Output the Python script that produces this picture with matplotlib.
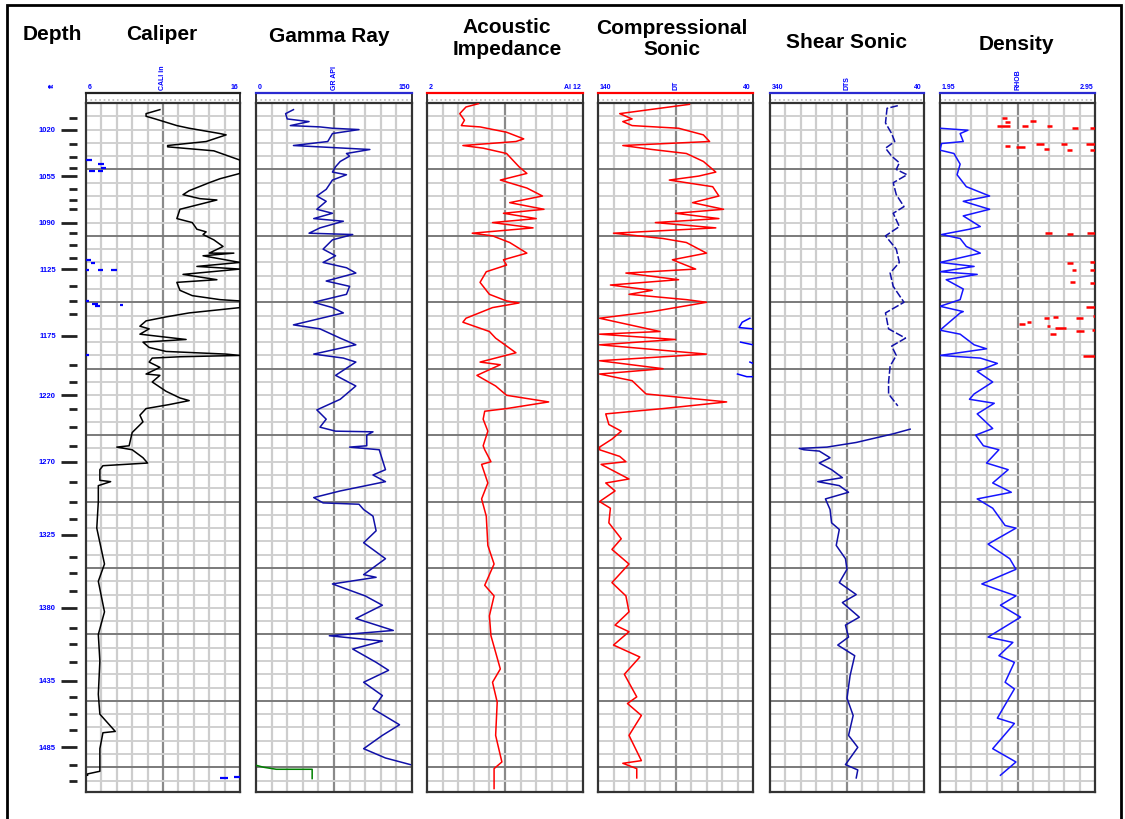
import matplotlib.pyplot as plt
import matplotlib.patches as patches
import numpy as np

W, H = 1125, 820
plt.rcParams['font.family'] = ['Liberation Sans', 'DejaVu Sans']

# depth axis (ft), grid: minor 10 ft, major 50 ft
depth_top, depth_bottom = 1000, 1518.6
depth_labels = [1020, 1055, 1090, 1125, 1175, 1220, 1270, 1325, 1380, 1435, 1485]
depth_minor = [1011, 1031, 1041, 1049, 1065, 1073, 1080, 1098, 1107, 1117, 1138, 1149,
               1159, 1197, 1210, 1230, 1244, 1258, 1285, 1300, 1313, 1342, 1354, 1367,
               1395, 1407, 1421, 1447, 1460, 1472, 1498, 1510]

# curves: (depth, value in track divisions 0-10)
caliper = [(1005, 4.8), (1008, 3.9), (1010, 3.9), (1012, 4.5), (1017, 5.9), (1019, 6.7),
           (1023, 8.7), (1024, 9.1), (1029, 7.8), (1032, 5.3), (1033, 5.3), (1036, 8.3),
           (1043, 10.0), (1053, 10.0), (1057, 8.7), (1060, 8.0), (1066, 6.7), (1069, 6.3),
           (1072, 7.4), (1073, 8.5), (1080, 6.1), (1087, 5.9), (1090, 6.9), (1095, 7.2),
           (1097, 7.8), (1099, 7.6), (1103, 8.3), (1108, 8.9), (1113, 8.0), (1113, 9.6),
           (1115, 7.6), (1120, 10.0), (1123, 7.2), (1125, 10.0), (1129, 6.3), (1133, 8.5),
           (1135, 5.9), (1141, 6.1), (1145, 6.9), (1148, 8.7), (1149, 10.0), (1154, 10.0),
           (1158, 6.7), (1161, 5.2), (1164, 3.9), (1168, 3.5), (1170, 4.1), (1174, 3.5),
           (1178, 6.5), (1180, 3.7), (1184, 4.1), (1187, 5.2), (1189, 9.1), (1190, 10.0),
           (1191, 6.1), (1192, 4.3), (1195, 4.1), (1199, 4.8), (1204, 3.9), (1205, 4.8),
           (1210, 4.3), (1217, 5.2), (1222, 6.1), (1224, 6.7), (1227, 5.4), (1230, 3.9),
           (1235, 3.5), (1240, 3.7), (1248, 3.0), (1258, 2.8), (1259, 2.0), (1261, 3.0),
           (1267, 3.7), (1271, 4.0), (1273, 1.1), (1276, 0.9), (1284, 0.9), (1285, 1.6),
           (1288, 0.8), (1300, 0.8), (1320, 0.7), (1347, 1.2), (1360, 0.8), (1383, 1.2),
           (1400, 0.8), (1420, 0.9), (1445, 0.8), (1460, 0.9), (1473, 1.9), (1474, 1.1),
           (1480, 1.0), (1486, 0.9), (1503, 0.9), (1505, 0.1), (1506, 0.1)]

gamma = [(1005, 2.4), (1008, 1.9), (1012, 2.0), (1014, 3.4), (1017, 2.2), (1018, 4.1),
         (1019, 4.9), (1020, 6.6), (1023, 4.9), (1029, 4.6), (1032, 2.4), (1035, 7.3),
         (1038, 5.8), (1040, 6.0), (1044, 5.4), (1048, 5.1), (1052, 4.9), (1054, 5.8),
         (1058, 4.9), (1065, 4.5), (1070, 3.9), (1074, 4.5), (1080, 3.9), (1083, 4.9),
         (1087, 3.7), (1089, 5.6), (1094, 4.1), (1098, 3.4), (1099, 6.2), (1103, 4.9),
         (1110, 4.3), (1115, 5.1), (1120, 4.3), (1124, 5.8), (1128, 6.4), (1134, 4.5),
         (1138, 6.0), (1144, 5.8), (1150, 3.7), (1154, 4.9), (1158, 5.6), (1167, 2.4),
         (1170, 4.1), (1177, 5.4), (1182, 6.4), (1189, 3.7), (1192, 5.6), (1195, 6.4),
         (1205, 5.1), (1213, 6.4), (1223, 5.4), (1231, 3.9), (1238, 4.5), (1244, 4.1),
         (1247, 5.1), (1247.5, 7.5), (1250, 7.1), (1258, 7.1), (1259, 6.0), (1261, 7.9),
         (1276, 8.3), (1280, 7.5), (1285, 8.3), (1292, 5.4), (1297, 3.7), (1301, 4.3),
         (1302, 6.6), (1306, 6.9), (1311, 7.5), (1322, 7.7), (1331, 6.9), (1343, 8.3),
         (1355, 6.9), (1357, 7.7), (1362, 4.9), (1371, 7.0), (1378, 8.1), (1388, 6.4),
         (1397, 8.8), (1401, 4.7), (1405, 8.1), (1411, 6.2), (1421, 7.7), (1427, 8.5),
         (1436, 6.9), (1446, 8.1), (1456, 7.5), (1468, 9.2), (1476, 8.1), (1486, 6.9),
         (1493, 8.3), (1498, 9.9)]

gamma_green = [(1498.5, 0.0), (1500, 0.5), (1501.5, 1.3), (1501.5, 3.6), (1508.5, 3.6)]

impedance = [(1000.5, 3.3), (1003, 2.5), (1008, 2.1), (1013, 2.4), (1017, 2.2), (1018, 3.4),
             (1022, 5.1), (1027, 6.2), (1029, 5.7), (1032, 2.3), (1034, 3.6), (1038, 5.1),
             (1043, 5.5), (1048, 5.9), (1053, 6.4), (1058, 4.7), (1064, 6.4), (1070, 7.4),
             (1075, 5.3), (1080, 7.5), (1083, 4.9), (1087, 7.0), (1090, 4.2), (1094, 6.8),
             (1098, 2.9), (1100, 4.2), (1105, 5.3), (1113, 6.4), (1118, 4.9), (1122, 5.1),
             (1127, 3.8), (1135, 3.4), (1144, 4.0), (1149, 5.1), (1150.5, 5.9), (1154, 4.2),
             (1162, 2.5), (1165, 2.3), (1172, 4.0), (1177, 4.4), (1188, 5.7), (1195, 3.4),
             (1197, 4.7), (1205, 3.2), (1213, 4.4), (1220, 5.1), (1225, 7.8), (1230, 5.1),
             (1232, 3.7), (1238, 3.6), (1247, 3.9), (1258, 3.6), (1261, 3.7), (1270, 4.1),
             (1272, 3.5), (1286, 3.9), (1298, 3.5), (1311, 3.8), (1333, 3.9), (1347, 4.3),
             (1363, 3.7), (1371, 4.3), (1386, 4.0), (1401, 4.1), (1426, 4.7), (1436, 4.2),
             (1451, 4.5), (1476, 4.4), (1496, 4.8), (1501, 4.3), (1516, 4.3)]

comp_sonic = [(1001, 5.9), (1008, 1.4), (1012, 2.2), (1014, 1.6), (1017, 2.2), (1019, 5.2),
              (1024, 6.8), (1029, 7.2), (1032, 1.6), (1035, 3.5), (1038, 5.7), (1044, 6.8),
              (1052, 7.6), (1055, 6.5), (1058, 4.6), (1063, 7.4), (1070, 7.8), (1075, 6.1),
              (1080, 8.1), (1083, 5.0), (1087, 7.8), (1090, 3.7), (1094, 7.6), (1098, 1.0),
              (1102, 4.2), (1105, 5.7), (1113, 7.0), (1118, 4.8), (1125, 6.3), (1128, 1.8),
              (1133, 5.2), (1137, 0.8), (1141, 3.5), (1144, 2.0), (1148, 5.7), (1150, 7.0),
              (1157, 3.5), (1162, 0.1), (1172, 4.0), (1174, 0.1), (1178, 5.0), (1182, 0.1),
              (1189, 7.0), (1194, 0.1), (1200, 4.2), (1204, 0.1), (1209, 2.2), (1219, 3.1),
              (1222, 5.7), (1225, 8.3), (1230, 4.2), (1234, 0.5), (1242, 0.7), (1247, 1.5),
              (1253, 0.9), (1259, 0.1), (1261, 0.1), (1266, 1.4), (1270, 1.8), (1272, 0.2),
              (1283, 2.0), (1286, 0.5), (1292, 1.1), (1300, 0.1), (1305, 0.8), (1316, 0.7),
              (1328, 1.5), (1336, 0.9), (1347, 2.0), (1361, 0.9), (1371, 1.8), (1383, 2.0),
              (1393, 1.1), (1398, 2.0), (1408, 1.0), (1417, 2.7), (1430, 1.7), (1447, 2.5),
              (1452, 1.9), (1461, 2.8), (1476, 2.0), (1495, 2.8), (1497, 1.6), (1501, 2.5),
              (1508, 2.5)]

comp_sonic_blue = [(1162, 9.8), (1165, 9.3), (1169, 9.1), (1170, 10.0), (np.nan, np.nan),
                   (1180, 9.2), (1182, 10.0), (np.nan, np.nan), (1195, 9.8), (1196, 10.0),
                   (np.nan, np.nan), (1204, 9.0), (1206, 9.6), (1206, 10.0)]

# upper shear section is broken in the original
shear_upper = [(1002, 8.3), (1004, 7.6), (1015, 7.5), (1023, 7.9), (1029, 8.1), (1034, 7.5),
               (1040, 7.9), (1045, 8.4), (1050, 8.2), (1054, 8.9), (1060, 8.0), (1069, 8.2),
               (1078, 8.7), (1083, 8.0), (1093, 8.4), (1100, 7.5), (1110, 8.2), (1120, 8.4),
               (1128, 7.8), (1138, 8.0), (1150, 8.7), (1158, 7.5), (1170, 7.7), (1177, 8.8),
               (1183, 7.9), (1190, 8.2), (1198, 7.8), (1210, 7.7), (1219, 7.7), (1228, 8.3)]

shear_lower = [(1245.5, 9.1), (1249, 8.0), (1255.5, 5.6), (1259, 3.7),
               (1260, 1.9), (1261, 2.2), (1262, 3.2), (1267, 3.9), (1271, 3.2), (1276, 4.0),
               (1282, 4.7), (1285, 3.1), (1288, 4.5), (1293, 5.1), (1298, 3.6), (1306, 3.9),
               (1316, 4.0), (1321, 4.5), (1333, 4.3), (1343, 4.9), (1351, 5.0), (1361, 4.5),
               (1370, 5.6), (1376, 4.7), (1387, 5.8), (1393, 4.9), (1402, 5.1), (1408, 4.4),
               (1416, 5.5), (1431, 5.2), (1448, 5.0), (1461, 5.4), (1476, 5.1), (1485, 5.7),
               (1498, 4.9), (1502, 5.7), (1508, 5.6)]

density = [(1019, 0.0), (1020.5, 1.8), (1023, 1.3), (1029, 1.5), (1030.5, 0.1), (1035.5, 0.0),
           (1038, 0.9), (1046, 1.3), (1054, 1.1), (1063, 1.7), (1070, 3.2), (1074, 1.5),
           (1080, 3.2), (1085, 1.5), (1093, 2.6), (1095, 1.9), (1099, 0.1), (1102, 1.3),
           (1108, 1.7), (1113, 2.6), (1120, 0.0), (1123, 2.2), (1127, 0.0), (1129, 2.4),
           (1133, 0.4), (1140, 1.5), (1148, 1.3), (1153, 0.0), (1157, 1.5), (1158, 1.3),
           (1171, 0.0), (1174, 1.3), (1182, 2.2), (1185, 3.0), (1190, 0.0), (1192, 2.6),
           (1196, 3.7), (1202, 2.4), (1210, 3.4), (1219, 2.2), (1223, 1.9), (1226, 3.5),
           (1234, 2.4), (1245, 3.4), (1250, 2.3), (1258, 2.8), (1261, 3.8), (1271, 3.0),
           (1276, 4.4), (1286, 3.4), (1293, 4.6), (1298, 2.4), (1305, 3.4), (1318, 4.2),
           (1320, 4.9), (1332, 3.1), (1343, 4.5), (1351, 4.9), (1362, 2.7), (1371, 4.9),
           (1378, 3.9), (1387, 5.2), (1402, 3.1), (1406, 4.7), (1416, 3.8), (1421, 4.8),
           (1436, 4.2), (1441, 4.8), (1463, 3.7), (1467, 4.8), (1486, 3.4), (1496, 4.9),
           (1506, 3.9)]

# short dashed fragments: (depth, from, to)
density_red = [(1011, 4.0, 4.3), (1014, 4.2, 4.5), (1017, 3.7, 4.5), (1017, 5.3, 5.7),
               (1013.5, 5.8, 6.2), (1017, 6.9, 7.2), (1019, 8.5, 8.9), (1019, 9.7, 10.0),
               (1032, 4.2, 4.5), (1033, 4.9, 5.5), (1030.5, 6.2, 6.7), (1034.5, 6.7, 7.0),
               (1030.5, 7.8, 8.2), (1035, 8.2, 8.5), (1030.5, 9.4, 10.0), (1035.5, 9.7, 10.0),
               (1097.5, 6.8, 7.2), (1098.5, 8.2, 8.6), (1098, 9.5, 10.0), (1120.5, 8.2, 8.6),
               (1119.5, 9.7, 10.0), (1126, 8.5, 8.8), (1126, 9.7, 10.0), (1135, 8.4, 8.7),
               (1135.5, 9.7, 10.0), (1153.5, 9.4, 10.0), (1166.5, 5.1, 5.5), (1165, 5.6, 5.9),
               (1162, 6.7, 7.0), (1168, 6.9, 7.1), (1161, 7.3, 7.6), (1169, 7.4, 8.1),
               (1174, 7.1, 7.5), (1162, 8.8, 9.2), (1171.5, 8.8, 9.3), (1171, 9.8, 10.0),
               (1160.5, 9.9, 10.0), (1190.5, 9.2, 10.0)]

caliper_blue = [(1043, 0.0, 0.4), (1046, 0.8, 1.2), (1049, 1.0, 1.3), (1051, 0.2, 0.6),
                (1051, 0.8, 1.1), (1118, 0.0, 0.3), (1120.5, 0.3, 0.6), (1126, 0.0, 0.2),
                (1126, 0.8, 1.1), (1126, 1.6, 2.0), (1149, 0.0, 0.2), (1151, 0.4, 0.8),
                (1153, 0.6, 0.9), (1152, 2.2, 2.4), (1189.5, 0.0, 0.2), (1508, 8.7, 9.2),
                (1507, 9.6, 10.0)]

titles = ["Caliper", "Gamma Ray", "Acoustic\nImpedance", "Compressional\nSonic",
          "Shear Sonic", "Density"]
scale_labels = [("6", "CALI in", "16"), ("0", "GR API", "150"), ("2", "", "AI 12"),
                ("140", "DT", "40"), ("340", "DTS", "40"), ("1.95", "RHOB", "2.95")]

# layout in pixels
track_x = [(86, 240), (256, 412), (427, 583), (598, 753), (770, 924), (940, 1095)]
title_pos = [(162, 35), (329, 36), (507, 38.5), (672, 39), (846, 43), (1016, 45)]
header_colors = ['#222222', '#2a2ad0', 'red', 'red', '#2a2ad0', '#2a2ad0']
plot_top, plot_bottom, head_top = 104, 793, 94


def px_axes(fig, x0, y0, x1, y1):
    return fig.add_axes([x0 / W, 1 - y1 / H, (x1 - x0) / W, (y1 - y0) / H])


def draw_grid(ax):
    for v in range(1, 10):
        ax.axvline(v, color='#8a8a8a' if v == 5 else '#cdcdcd', lw=1.6, zorder=0)
    for d in range(1010, 1519, 10):
        major = d % 50 == 0
        ax.axhline(d, color='#7a7a7a' if major else '#d0d0d0', lw=1.4, zorder=0)


def curve(ax, pts, color, lw=1.1, ls='-'):
    a = np.array(pts, dtype=float)
    ax.plot(a[:, 1], a[:, 0], color=color, lw=lw, ls=ls, zorder=3)


def frags(ax, segs, color, lw=1.6):
    a = np.array(segs, dtype=float)
    ax.hlines(a[:, 0], a[:, 1], a[:, 2], color=color, lw=lw, zorder=3)


fig = plt.figure(figsize=(W / 100, H / 100), dpi=100)

# outer frame
fig.patches.append(patches.Rectangle((7 / W, -0.01), (1121 - 7) / W, 1.01 - 6 / H,
                                     transform=fig.transFigure, fill=False,
                                     edgecolor='black', lw=2))

fig.text(52 / W, 1 - 34 / H, "Depth", ha='center', va='center', fontsize=15,
         fontweight='bold')
fig.text(52 / W, 1 - 88 / H, "ft", ha='center', va='bottom', fontsize=5.5,
         fontweight='bold', color='blue', rotation=90)

# depth column
axd = px_axes(fig, 20, plot_top, 86, plot_bottom)
axd.set_xlim(20, 86)
axd.set_ylim(depth_bottom, depth_top)
axd.axis('off')
axd.hlines(depth_minor, 69, 77, color='#222222', lw=2)
axd.hlines(depth_labels, 61, 77, color='#222222', lw=2)
for d in depth_labels:
    axd.text(56, d, str(d), ha='right', va='center', fontsize=5.5, color='blue',
             fontweight='bold')

axes = []
for i, (x0, x1) in enumerate(track_x):
    # header strip
    axh = px_axes(fig, x0, head_top, x1, plot_top)
    axh.set_xlim(0, 10)
    axh.set_ylim(0, 1)
    axh.set_xticks([])
    axh.set_yticks([])
    for s in ['left', 'right', 'bottom']:
        axh.spines[s].set_color('#333333')
        axh.spines[s].set_linewidth(1.4)
    axh.spines['top'].set_color(header_colors[i])
    axh.spines['top'].set_linewidth(1.6)
    axh.axhline(0.3, color='#bbbbbb', lw=1.2, ls=':')

    lo, mid, hi = scale_labels[i]
    fig.text((x0 + 2) / W, 1 - 91 / H, lo, ha='left', va='bottom', fontsize=5,
             color='blue', fontweight='bold')
    fig.text((x1 - 2) / W, 1 - 91 / H, hi, ha='right', va='bottom', fontsize=5,
             color='blue', fontweight='bold')
    if mid:
        fig.text((x0 + x1) / 2 / W, 1 - 90 / H, mid, ha='center', va='bottom',
                 fontsize=5, color='blue', fontweight='bold', rotation=90)

    ax = px_axes(fig, x0, plot_top, x1, plot_bottom)
    ax.set_xlim(0, 10)
    ax.set_ylim(depth_bottom, depth_top)
    ax.set_xticks([])
    ax.set_yticks([])
    for s in ax.spines.values():
        s.set_color('#333333')
        s.set_linewidth(1.6)
    draw_grid(ax)
    axes.append(ax)

    tx, ty = title_pos[i]
    fig.text(tx / W, 1 - ty / H, titles[i], ha='center', va='center', fontsize=15,
             fontweight='bold', linespacing=1.15)

curve(axes[0], caliper, 'black')
frags(axes[0], caliper_blue, 'blue')
curve(axes[1], gamma, '#1010a8')
curve(axes[1], gamma_green, 'green')
curve(axes[2], impedance, 'red')
curve(axes[3], comp_sonic, 'red')
curve(axes[3], comp_sonic_blue, 'blue')
curve(axes[4], shear_upper, '#1010a8', ls=(0, (5, 1.5)))
curve(axes[4], shear_lower, '#1010a8')
curve(axes[5], density, '#1515ff')
frags(axes[5], density_red, 'red', lw=1.8)

fig.savefig("out.png", dpi=100)
